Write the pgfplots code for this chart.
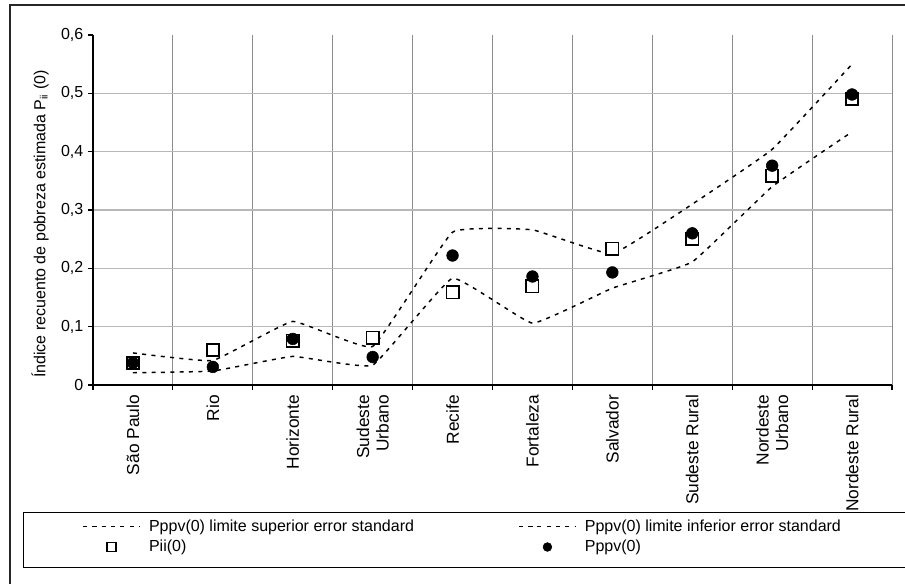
\documentclass[border=0pt]{standalone}
\usepackage{pgfplots}
\pgfplotsset{compat=1.18}
\usepackage{fontspec}
\setmainfont{Liberation Sans}
\begin{document}
\begin{tikzpicture}
\useasboundingbox (0,0) rectangle (678.75pt,-438pt);
\begin{axis}[
  at={(69.75pt,-288.75pt)}, anchor=south west,
  scale only axis, width=599.25pt, height=262.5pt,
  xmin=0.5, xmax=10.5, ymin=0, ymax=0.6,
  clip=false,
  axis x line*=bottom, axis y line*=left,
  axis line style={-, black, line width=1pt},
  tick align=outside,
  major tick length=3.75pt,
  minor tick length=0pt,
  tick style={black, line width=0.8pt},
  xtick={0.5,1.5,2.5,3.5,4.5,5.5,6.5,7.5,8.5,9.5,10.5}, xticklabels={},
  xmajorgrids,
  x grid style={black!45, line width=0.75pt},
  extra x ticks={1,2,3,4,5,6,7,8,9,10},
  extra x tick labels={São Paulo, Rio, Horizonte, {Sudeste\\Urbano}, Recife, Fortaleza, Salvador, Sudeste Rural, {Nordeste\\Urbano}, Nordeste Rural},
  extra x tick style={major tick length=0pt, grid=none},
  xticklabel style={rotate=90, anchor=east, align=right, font=\fontsize{13}{14.5}\selectfont},
  xticklabel shift=4pt,
  ytick={0,0.1,0.2,0.3,0.4,0.5,0.6},
  yticklabels={0,{0,1},{0,2},{0,3},{0,4},{0,5},{0,6}},
  yticklabel style={font=\fontsize{12}{14}\selectfont},
  /pgf/number format/assume math mode=true,
  minor ytick={0.1,0.2,0.3,0.4,0.5}, yminorgrids,
  y grid style={black!28, line width=1pt},
  ylabel={Índice recuento de pobreza estimada P\textsubscript{ii} (0)},
  ylabel style={at={(axis description cs:-0.0663,0.46)}, anchor=center, font=\fontsize{12}{14}\selectfont},
  legend columns=2,
  legend cell align=left,
  legend style={draw=none, fill=none, at={(-0.0138,-0.3829)}, anchor=north west,
    inner sep=0pt, row sep=4pt, font=\fontsize{12}{14}\selectfont,
    nodes={inner xsep=0pt, inner ysep=0.5pt},
    /tikz/every odd column/.append style={column sep=6pt},
    /tikz/every even column/.append style={column sep=78pt}},
  legend image code/.code={\draw[mark repeat=2,mark phase=2,#1, every mark/.append style={scale=0.75}] plot coordinates {(0pt,0pt) (21.5pt,0pt) (43pt,0pt)};},
]
\addplot[black, line width=1.1pt, dash pattern=on 3pt off 4pt, smooth, tension=0.18] coordinates {
(1,0.055) (2,0.042) (3,0.109) (4,0.066) (5,0.262) (6,0.266) (7,0.225) (8,0.310) (9,0.404) (10,0.550)};
\addlegendentry{Pppv(0) limite superior error standard}
\addplot[black, line width=1.1pt, dash pattern=on 3pt off 4pt, smooth, tension=0.18] coordinates {
(1,0.021) (2,0.024) (3,0.049) (4,0.034) (5,0.183) (6,0.106) (7,0.166) (8,0.211) (9,0.340) (10,0.434)};
\addlegendentry{Pppv(0) limite inferior error standard}
\addplot[only marks, mark=square*, mark size=4.6pt, mark options={fill=white, draw=black, line width=1.3pt, solid}] coordinates {
(1,0.038) (2,0.060) (3,0.076) (4,0.081) (5,0.159) (6,0.169) (7,0.234) (8,0.250) (9,0.359) (10,0.490)};
\addlegendentry{Pii(0)}
\addplot[only marks, mark=*, mark size=4.4pt, mark options={fill=black, draw=black, solid}] coordinates {
(1,0.038) (2,0.031) (3,0.079) (4,0.048) (5,0.222) (6,0.186) (7,0.193) (8,0.260) (9,0.376) (10,0.498)};
\addlegendentry{Pppv(0)}
\end{axis}
\begin{scope}[x=0.75pt,y=-0.75pt]
\draw[black!85, line width=1.1pt] (10,584) -- (10,5) -- (905,5);
\draw[black, line width=0.75pt] (905,512) -- (23,512) -- (23,567) -- (905,567);
\end{scope}
\end{tikzpicture}
\end{document}
